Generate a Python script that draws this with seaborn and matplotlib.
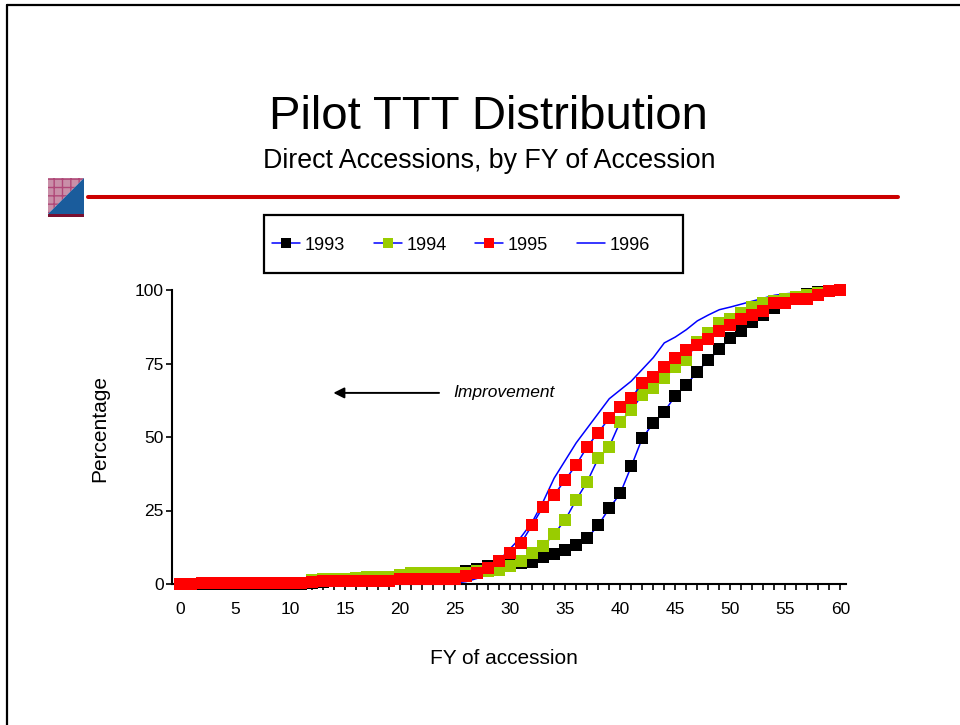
import numpy as np
import pandas as pd
import matplotlib
matplotlib.use("Agg")
import matplotlib.pyplot as plt
from matplotlib.lines import Line2D
from matplotlib.patches import Polygon, Rectangle
import seaborn as sns

# ── Data ─────────────────────────────────────────────────────────────────────
fy = list(range(0, 61))

pct_1993 = [0, 0, 0, 0, 0, 0, 0, 0, 0, 0, 0, 0, 0.3, 0.8, 1.0, 1.2, 1.4, 1.5, 1.6, 1.8,
            2.0, 2.3, 2.6, 3.0, 3.4, 3.9, 4.4, 5.2, 6.2, 6.5, 6.7, 7.0, 7.6, 9.2, 10.3,
            11.5, 13.3, 15.5, 20.0, 25.7, 30.8, 40.0, 49.6, 54.7, 58.6, 64.0, 67.7,
            72.2, 76.2, 79.8, 83.8, 86.0, 89.0, 91.5, 94.0, 96.0, 97.7, 98.5, 99.2,
            99.7, 100]
pct_1994 = [0, 0, 0.3, 0.3, 0.3, 0.3, 0.3, 0.3, 0.3, 0.3, 0.3, 0.5, 1.3, 1.6, 1.8, 1.8,
            2.0, 2.5, 2.5, 2.5, 3.1, 3.8, 3.8, 3.8, 3.8, 3.8, 3.9, 4.3, 4.4, 4.8, 6.1,
            7.8, 10.6, 12.9, 17.0, 21.8, 28.6, 34.8, 42.7, 46.7, 55.2, 59.2, 64.3,
            66.6, 70.0, 73.9, 76.2, 82.4, 85.5, 88.9, 90.2, 92.1, 94.2, 95.5, 96.2,
            96.8, 97.5, 98.2, 99.1, 99.6, 100]
pct_1995 = [0, 0, 0.4, 0.4, 0.4, 0.4, 0.4, 0.4, 0.4, 0.4, 0.4, 0.4, 0.6, 1.0, 1.0, 1.0,
            1.0, 1.0, 1.0, 1.0, 1.6, 1.6, 1.6, 1.6, 1.6, 1.6, 2.6, 3.8, 5.5, 7.8, 10.6,
            14.0, 20.0, 26.3, 30.3, 35.4, 40.5, 46.7, 51.5, 56.4, 60.3, 63.2, 68.3,
            70.5, 73.9, 76.8, 79.6, 81.3, 83.4, 86.0, 88.0, 90.0, 91.4, 92.9, 95.5,
            95.5, 96.8, 96.8, 98.2, 99.7, 100]
pct_1996 = [0] * 25 + [0.3, 0.8, 1.9, 4.5, 8.0, 12.0, 16.0, 21.0, 28.0, 36.0, 42.0,
                       48.0, 53.0, 58.0, 63.0, 66.0, 69.0, 73.0, 77.0, 82.0, 84.0,
                       86.5, 89.5, 91.5, 93.3, 94.2, 95.2, 96.2, 97.2, 98.2, 98.7,
                       99.0, 99.3, 99.5, 99.8, 100]

marked_years = ["1993", "1994", "1995"]
marked_values = [pct_1993, pct_1994, pct_1995]
marker_colors = ["#000000", "#99cc00", "#ff0000"]
line_blue = "#0000ff"

x_ticks = list(range(0, 61, 5))
y_ticks = [0, 25, 50, 75, 100]

# ── Style ────────────────────────────────────────────────────────────────────
sns.set_style("white")
plt.rcParams["font.family"] = ["Liberation Sans", "DejaVu Sans"]
plt.rcParams.update({"text.color": "black", "axes.labelcolor": "black",
                     "xtick.color": "black", "ytick.color": "black"})

W, H = 960, 725
fig = plt.figure(figsize=(W / 100, H / 100), dpi=100)


def fx(px):
    return px / W


def fy_(py):
    return 1 - py / H


ax = fig.add_axes([fx(172), fy_(584), (846 - 172) / W, (584 - 290) / H])

# 1996 line sits underneath the marked series
sns.lineplot(x=fy, y=pct_1996, ax=ax, color=line_blue, lw=1.1,
             label="1996", zorder=2.6, clip_on=False)
for year, vals, c in zip(marked_years, marked_values, marker_colors):
    sns.lineplot(x=fy, y=vals, ax=ax, color=line_blue, lw=1.1, marker="s",
                 markersize=8.6, markerfacecolor=c, markeredgecolor=c,
                 markeredgewidth=0, label=year, zorder=3, clip_on=False)

ax.set_xlim(-0.7, 60.5)
ax.set_ylim(0, 100)
ax.set_xticks(x_ticks)
ax.set_xticks(fy, minor=True)
ax.set_yticks(y_ticks)
for s in ["top", "right"]:
    ax.spines[s].set_visible(False)
for s in ["left", "bottom"]:
    ax.spines[s].set_color("black")
    ax.spines[s].set_linewidth(1.5)
ax.tick_params(axis="x", which="both", direction="out", length=4, width=1.2,
               color="black", pad=9, labelsize=12.5, bottom=True)
ax.tick_params(axis="y", direction="out", length=4, width=1.2, color="black",
               pad=2, labelsize=12.5, left=True)

ax.set_xlabel("FY of accession", fontsize=15)
ax.set_ylabel("Percentage", fontsize=15)
ax.xaxis.set_label_coords((503.5 - 172) / 674, (584 - 659) / 294)
ax.xaxis.label.set_va("center")
ax.yaxis.set_label_coords((100 - 172) / 674, (584 - 428) / 294)
ax.yaxis.label.set_va("center")

# Improvement arrow
ax.annotate("", xy=(13.7, 65), xytext=(23.8, 65),
            arrowprops=dict(arrowstyle="-|>", color="black", lw=1.4,
                            mutation_scale=16))
ax.text(24.8, 65, "Improvement", fontsize=12.5, style="italic",
        ha="left", va="center")

# Legend: order 1993..1996, frame drawn separately so entries stay left-packed
handles, labels = ax.get_legend_handles_labels()
order = [labels.index(y) for y in ["1993", "1994", "1995", "1996"]]
leg = ax.legend([handles[i] for i in order], [labels[i] for i in order],
                ncol=4, loc="center left", borderaxespad=0, borderpad=0,
                bbox_to_anchor=(fx(272), fy_(245)),
                bbox_transform=fig.transFigure, fontsize=13, frameon=False,
                handlelength=1.55, handletextpad=0.25,
                markerscale=0.8, columnspacing=1.6)
fig.add_artist(Rectangle((fx(264), fy_(273)), (683 - 264) / W, (273 - 215) / H,
                         transform=fig.transFigure, fill=False,
                         edgecolor="black", lw=1.6))

# Titles
fig.text(fx(488.5), fy_(117), "Pilot TTT Distribution", fontsize=34,
         ha="center", va="center")
fig.text(fx(489), fy_(161), "Direct Accessions, by FY of Accession",
         fontsize=19.3, ha="center", va="center")

# Slide decorations: red rule, logo square, border
fig.add_artist(Line2D([fx(88), fx(898)], [fy_(197), fy_(197)], color="#cc0000",
                      lw=2.9))
ul = Polygon([[fx(48), fy_(178)], [fx(84), fy_(178)], [fx(48), fy_(214)]],
             closed=True, transform=fig.transFigure, facecolor="#c98fa8",
             edgecolor="#b04878", hatch="++", lw=0)
lr = Polygon([[fx(84), fy_(178)], [fx(84), fy_(214)], [fx(48), fy_(214)]],
             closed=True, transform=fig.transFigure, facecolor="#1a5c9c", lw=0)
base = Rectangle((fx(48), fy_(217)), fx(84) - fx(48), fy_(214) - fy_(217),
                 transform=fig.transFigure, facecolor="#7a1030", lw=0)
for p in (ul, lr, base):
    fig.add_artist(p)
fig.add_artist(Line2D([fx(7), fx(7)], [0, fy_(5)], color="black", lw=1.6))
fig.add_artist(Line2D([fx(7), 1], [fy_(5), fy_(5)], color="black", lw=1.6))

fig.savefig("out.png", dpi=100)
